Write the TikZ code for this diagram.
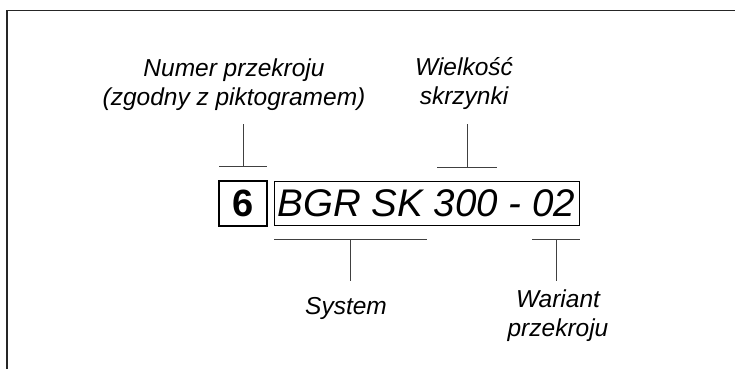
\documentclass[tikz,border=0pt]{standalone}
\usepackage{fontspec}
\setmainfont{Liberation Sans}
\usetikzlibrary{positioning}
\tikzstyle{desc} = [font=\fontsize{24.5}{29}\selectfont\itshape, align=center, inner sep=0pt]
\tikzstyle{numbox} = [rectangle, minimum width=48pt, minimum height=45pt, inner sep=0pt, outer sep=0pt, line width=1.8pt, draw=black, font=\fontsize{38}{40}\selectfont\bfseries]
\tikzstyle{codebox} = [rectangle, minimum width=305pt, minimum height=44pt, inner sep=0pt, outer sep=0pt, line width=1pt, draw=black, font=\fontsize{38.5}{40}\selectfont\itshape]
\tikzstyle{tick} = [line width=1pt, black!75]

\begin{document}
\begin{tikzpicture}[x=1pt, y=1pt]
    \useasboundingbox (0,0) rectangle (735,369);
    % Frame
    \draw[line width=1.3pt, black!85] (7,0) -- (7,358.5) -- (735,358.5);

    % Nodes
    \node (num) [numbox] at (243,165.5) {6};
    \node (code) [codebox, right=7pt of num] {BGR SK 300 - 02};
    \node (numlbl) [desc] at (234,284) {Numer przekroju\\(zgodny z piktogramem)};
    \node (sizelbl) [desc] at (464,285) {Wielko\'s\'c\\skrzynki};
    \node (syslbl) [desc] at (346,61) {System};
    \node (varlbl) [desc] at (558,53) {Wariant\\przekroju};

    % Ticks
    \coordinate (t1) at ([yshift=14pt]num.north);
    \coordinate (t2) at ([xshift=193pt, yshift=14pt]code.north west);
    \coordinate (t3) at ([xshift=76.5pt, yshift=-14pt]code.south west);
    \coordinate (t4) at ([xshift=-23pt, yshift=-14pt]code.south east);
    \draw [tick] ([yshift=14pt]num.north west) -- ([yshift=14pt]num.north east);
    \draw [tick] (t1) -- ++(0,43);
    \draw [tick] ([xshift=-30pt]t2) -- ([xshift=30pt]t2);
    \draw [tick] (t2) -- ++(0,43);
    \draw [tick] ([xshift=-76.5pt]t3) -- ([xshift=76.5pt]t3);
    \draw [tick] (t3) -- ++(0,-42);
    \draw [tick] ([xshift=-24pt]t4) -- ([xshift=24pt]t4);
    \draw [tick] (t4) -- ++(0,-42);
\end{tikzpicture}
\end{document}
